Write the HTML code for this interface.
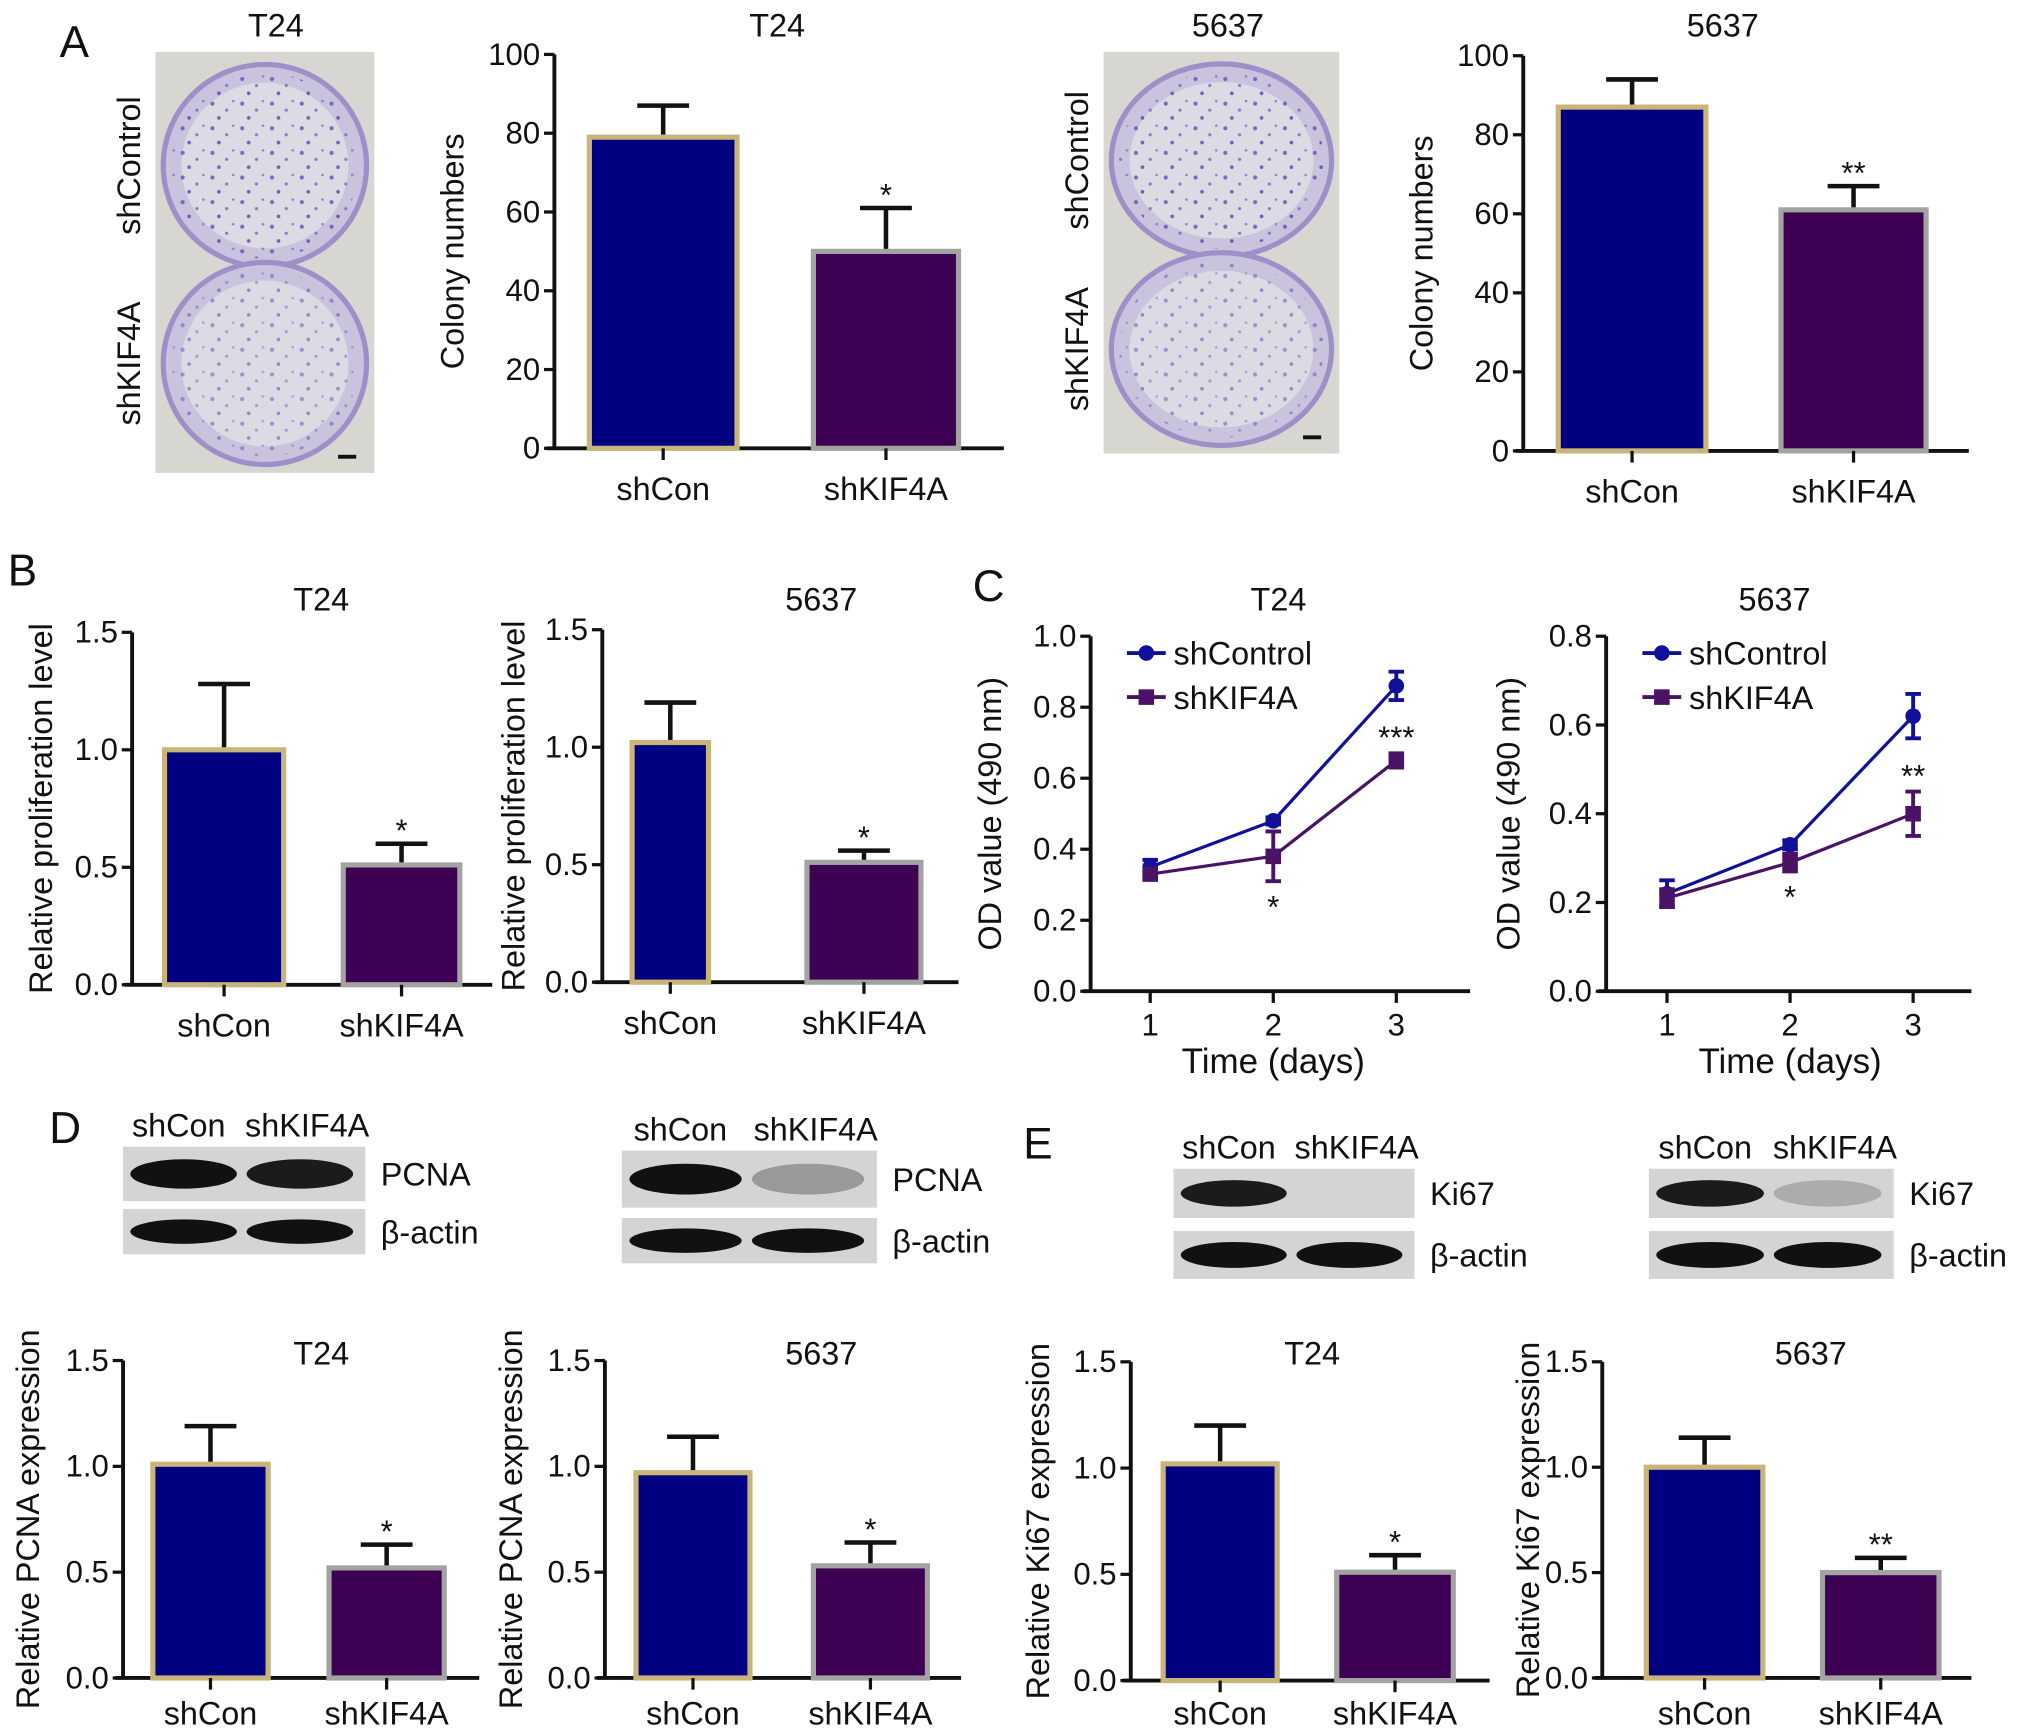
<!DOCTYPE html>
<html><head><meta charset="utf-8">
<style>
html,body{margin:0;padding:0;background:#fff;}
svg{display:block;}
text{font-family:"Liberation Sans Narrow","Liberation Sans",sans-serif;fill:#111;}
.t{font-family:"Liberation Sans",sans-serif;}
</style></head>
<body>
<svg id="fig" width="2031" height="1735" viewBox="0 0 1568 1339" preserveAspectRatio="none" xmlns="http://www.w3.org/2000/svg">
<defs>
<pattern id="speck" width="23" height="19" patternUnits="userSpaceOnUse">
<circle cx="3" cy="4" r="1.6" fill="#6a55b5"/><circle cx="14" cy="9" r="1.2" fill="#7a66c0"/><circle cx="8" cy="15" r="1.4" fill="#5f4aa8"/><circle cx="19" cy="2" r="1" fill="#8572c8"/>
</pattern>
</defs>
<g id="static">
  <text x="46" y="44" font-size="34">A</text>
  <text x="6" y="452" font-size="34">B</text>
  <text x="751" y="464" font-size="34">C</text>
  <text x="38" y="882" font-size="34">D</text>
  <text x="790" y="894" font-size="34">E</text>
</g>
</svg>
<script>
// ---------------- Data ----------------
const barCategories = ["shCon", "shKIF4A"];
const colonyT24 = [79, 50];
const colonyT24Err = [87, 61];
const colony5637 = [87, 61];
const colony5637Err = [94, 67];
const prolifT24 = [1.0, 0.51];
const prolifT24Err = [1.28, 0.6];
const prolif5637 = [1.02, 0.51];
const prolif5637Err = [1.19, 0.56];
const pcnaT24 = [1.01, 0.52];
const pcnaT24Err = [1.19, 0.63];
const pcna5637 = [0.97, 0.53];
const pcna5637Err = [1.14, 0.64];
const ki67T24 = [1.02, 0.51];
const ki67T24Err = [1.2, 0.59];
const ki675637 = [1.0, 0.5];
const ki675637Err = [1.14, 0.57];
const colonyTicks = [0, 20, 40, 60, 80, 100];
const relTicks = ["0.0", "0.5", "1.0", "1.5"];
const days = [1, 2, 3];
const odT24Ctrl = [0.35, 0.48, 0.86];
const odT24CtrlErr = [0.02, 0.01, 0.04];
const odT24Kd = [0.33, 0.38, 0.65];
const odT24KdErr = [0.01, 0.07, 0.02];
const od5637Ctrl = [0.22, 0.33, 0.62];
const od5637CtrlErr = [0.03, 0.01, 0.05];
const od5637Kd = [0.21, 0.29, 0.40];
const od5637KdErr = [0.02, 0.02, 0.05];
const odT24Ticks = ["0.0", "0.2", "0.4", "0.6", "0.8", "1.0"];
const od5637Ticks = ["0.0", "0.2", "0.4", "0.6", "0.8"];

const NS = "http://www.w3.org/2000/svg";
const svg = document.getElementById("fig");
function mk(tag, attrs, parent, txt) {
  const e = document.createElementNS(NS, tag);
  for (const k in attrs) e.setAttribute(k, attrs[k]);
  if (txt !== undefined) e.textContent = txt;
  (parent || svg).appendChild(e);
  return e;
}
const FILL = ["#000080", "#3e0052"];
const EDGE = ["#c9b47a", "#a3a3a3"];

function barChart(o, vals, errs, ticks, stars) {
  const g = mk("g", {});
  
  
  const ymax = parseFloat(ticks[ticks.length - 1]);
  const y = v => o.y0 - (v / ymax) * (o.y0 - o.ytop);
  const lo = o.lo || 40;
  const ax = mk("path", {d: `M${o.ax} ${o.ytop}V${o.y0}M${o.ax - 6} ${o.y0}H${o.xend}`, stroke: "#111", "stroke-width": 3, fill: "none"}, g);
  
  
  ticks.forEach(t => {
    const yy = y(parseFloat(t));
    mk("line", {x1: o.ax - 8, x2: o.ax, y1: yy, y2: yy, stroke: "#111", "stroke-width": 2.5}, g);
    const tl = mk("text", {x: o.ax - 11, y: yy + 8, "font-size": 24, "text-anchor": "end"}, g, t);
    
    
  });
  vals.forEach((v, i) => {
    const [x1, x2] = o.bars[i];
    const cx = (x1 + x2) / 2;
    const ye = y(errs[i]);
    const eb = mk("path", {d: `M${cx} ${y(v)}V${ye}M${cx - 20} ${ye}H${cx + 20}`, stroke: "#111", "stroke-width": 3.5, fill: "none"}, g);
    
    
    const r = mk("rect", {x: x1, y: y(v), width: x2 - x1, height: o.y0 - y(v), fill: FILL[i], stroke: EDGE[i], "stroke-width": 4}, g);
    
    
    mk("line", {x1: cx, x2: cx, y1: o.y0, y2: o.y0 + 9, stroke: "#111", "stroke-width": 2.5}, g);
    const cl = mk("text", {x: cx, y: o.y0 + lo, "font-size": 25, "text-anchor": "middle", class: "t"}, g, barCategories[i]);
    
    
    if (stars[i]) {
      const st = mk("text", {x: cx, y: ye - 2, "font-size": 24, "text-anchor": "middle", class: "t"}, g, stars[i]);
      
      
    }
  });
  const ti = mk("text", {x: o.tx, y: o.ty, "font-size": 25, "text-anchor": "middle"}, g, o.title);
  
  
  const ycx = o.ylx, ycy = (o.ytop + o.y0) / 2;
  const yt = mk("text", {x: ycx, y: ycy, "font-size": 25, "text-anchor": "middle", class: "t", transform: `rotate(-90 ${ycx} ${ycy})`}, g, o.ylabel);
  
  
}

barChart({name: "colony-chart-t24", ax: 428, y0: 346, ytop: 42, xend: 775, bars: [[455, 569], [628, 740]], tx: 600, ty: 28, title: "T24", ylx: 358, ylabel: "Colony numbers"}, colonyT24, colonyT24Err, colonyTicks.map(String), ["", "*"]);
barChart({name: "colony-chart-5637", ax: 1176, y0: 348, ytop: 43, xend: 1520, bars: [[1203, 1317], [1375, 1487]], tx: 1330, ty: 28, title: "5637", ylx: 1106, ylabel: "Colony numbers"}, colony5637, colony5637Err, colonyTicks.map(String), ["", "**"]);
barChart({name: "proliferation-chart-t24", ax: 102, y0: 760, ytop: 488, xend: 380, bars: [[127, 219], [265, 355]], tx: 248, ty: 471, title: "T24", ylx: 40, ylabel: "Relative proliferation level"}, prolifT24, prolifT24Err, relTicks, ["", "*"]);
barChart({name: "proliferation-chart-5637", ax: 465, y0: 758, ytop: 486, xend: 740, bars: [[488, 547], [623, 711]], tx: 634, ty: 471, title: "5637", ylx: 405, ylabel: "Relative proliferation level"}, prolif5637, prolif5637Err, relTicks, ["", "*"]);
barChart({name: "pcna-chart-t24", lo: 36, ax: 95, y0: 1295, ytop: 1050, xend: 370, bars: [[118, 207], [254, 343]], tx: 248, ty: 1053, title: "T24", ylx: 30, ylabel: "Relative PCNA expression"}, pcnaT24, pcnaT24Err, relTicks, ["", "*"]);
barChart({name: "pcna-chart-5637", lo: 36, ax: 467, y0: 1295, ytop: 1050, xend: 742, bars: [[491, 579], [628, 716]], tx: 634, ty: 1053, title: "5637", ylx: 403, ylabel: "Relative PCNA expression"}, pcna5637, pcna5637Err, relTicks, ["", "*"]);
barChart({name: "ki67-chart-t24", lo: 34, ax: 873, y0: 1297, ytop: 1051, xend: 1150, bars: [[898, 986], [1032, 1122]], tx: 1013, ty: 1053, title: "T24", ylx: 810, ylabel: "Relative Ki67 expression"}, ki67T24, ki67T24Err, relTicks, ["", "*"]);
barChart({name: "ki67-chart-5637", lo: 36, ax: 1237, y0: 1295, ytop: 1051, xend: 1522, bars: [[1271, 1361], [1407, 1497]], tx: 1398, ty: 1053, title: "5637", ylx: 1188, ylabel: "Relative Ki67 expression"}, ki675637, ki675637Err, relTicks, ["", "**"]);

function lineChart(o, ticks, ctrl, ctrlE, kd, kdE, stars) {
  const g = mk("g", {});
  
  
  const ymax = parseFloat(ticks[ticks.length - 1]);
  const y = v => o.y0 - (v / ymax) * (o.y0 - o.ytop);
  const x = d => o.x1 + (d - 1) * o.dx;
  const ax = mk("path", {d: `M${o.ax} ${o.ytop}V${o.y0}M${o.ax - 6} ${o.y0}H${o.xend}`, stroke: "#111", "stroke-width": 3, fill: "none"}, g);
  
  
  ticks.forEach(t => {
    const yy = y(parseFloat(t));
    mk("line", {x1: o.ax - 8, x2: o.ax, y1: yy, y2: yy, stroke: "#111", "stroke-width": 2.5}, g);
    const tl = mk("text", {x: o.ax - 11, y: yy + 8, "font-size": 24, "text-anchor": "end"}, g, t);
    
    
  });
  days.forEach(d => {
    mk("line", {x1: x(d), x2: x(d), y1: o.y0, y2: o.y0 + 9, stroke: "#111", "stroke-width": 2.5}, g);
    const tl = mk("text", {x: x(d), y: o.y0 + 34, "font-size": 24, "text-anchor": "middle"}, g, String(d));
    
    
  });
  const series = [[ctrl, ctrlE, "#10109a", "circle", "shControl"], [kd, kdE, "#4a1366", "square", "shKIF4A"]];
  series.forEach(([vals, errs, col, shape, label], si) => {
    const pl = mk("polyline", {points: vals.map((v, i) => x(days[i]) + "," + y(v)).join(" "), fill: "none", stroke: col, "stroke-width": 2.5}, g);
    
    
    vals.forEach((v, i) => {
      const cx = x(days[i]), cy = y(v);
      const eb = mk("path", {d: `M${cx} ${y(v + errs[i])}V${y(v - errs[i])}M${cx - 6} ${y(v + errs[i])}H${cx + 6}M${cx - 6} ${y(v - errs[i])}H${cx + 6}`, stroke: col, "stroke-width": 3, fill: "none"}, g);
      
      
      const m = shape === "circle" ? mk("circle", {cx: cx, cy: cy, r: 6, fill: col}, g) : mk("rect", {x: cx - 6, y: cy - 6, width: 12, height: 12, fill: col}, g);
      
      
    });
    const ly = o.ly + si * 34;
    mk("line", {x1: o.lx, x2: o.lx + 30, y1: ly, y2: ly, stroke: col, "stroke-width": 3}, g);
    const lm = shape === "circle" ? mk("circle", {cx: o.lx + 15, cy: ly, r: 6, fill: col}, g) : mk("rect", {x: o.lx + 9, y: ly - 6, width: 12, height: 12, fill: col}, g);
    
    
    const lt = mk("text", {x: o.lx + 36, y: ly + 9, "font-size": 25, class: "t"}, g, label);
    
    
  });
  const s2 = mk("text", {x: x(2), y: y(kd[1] - kdE[1]) + 28, "font-size": 24, "text-anchor": "middle", class: "t"}, g, stars[0]);
  
  
  const s3 = mk("text", {x: x(3), y: y(kd[2] + kdE[2]) - 4, "font-size": 24, "text-anchor": "middle", class: "t"}, g, stars[1]);
  
  
  const ti = mk("text", {x: o.tx, y: 471, "font-size": 25, "text-anchor": "middle"}, g, o.title);
  
  
  const xt = mk("text", {x: x(2), y: 828, "font-size": 27, "text-anchor": "middle", class: "t"}, g, "Time (days)");
  
  
  const ycy = (o.ytop + o.y0) / 2;
  const yt = mk("text", {x: o.ylx, y: ycy, "font-size": 25, "text-anchor": "middle", class: "t", transform: `rotate(-90 ${o.ylx} ${ycy})`}, g, "OD value (490 nm)");
  
  
}
lineChart({name: "od-chart-t24", ax: 842, y0: 765, ytop: 491, xend: 1135, x1: 888, dx: 95, lx: 870, ly: 504, tx: 987, title: "T24", ylx: 773}, odT24Ticks, odT24Ctrl, odT24CtrlErr, odT24Kd, odT24KdErr, ["*", "***"]);
lineChart({name: "od-chart-5637", ax: 1240, y0: 765, ytop: 491, xend: 1522, x1: 1287, dx: 95, lx: 1268, ly: 504, tx: 1370, title: "5637", ylx: 1173}, od5637Ticks, od5637Ctrl, od5637CtrlErr, od5637Kd, od5637KdErr, ["*", "**"]);

function dish(x, y, w, h, name) {
  const g = mk("g", {});
  
  
  mk("rect", {x: x, y: y, width: w, height: h, fill: "#d8d6d0"}, g);
  const cx = x + w / 2, r = w / 2 - 6;
  [y + h * 0.27, y + h * 0.74].forEach((cy, k) => {
    mk("ellipse", {cx: cx, cy: cy, rx: r, ry: h * 0.24, fill: "#c9c3dd", stroke: "#9d90c8", "stroke-width": 4}, g);
    mk("ellipse", {cx: cx, cy: cy, rx: r - 14, ry: h * 0.24 - 14, fill: "#dcdae2"}, g);
    mk("ellipse", {cx: cx, cy: cy, rx: r - 6, ry: h * 0.24 - 6, fill: "url(#speck)", opacity: k ? 0.55 : 0.85}, g);
  });
  const lab = [["shControl", y + h * 0.27], ["shKIF4A", y + h * 0.74]];
  lab.forEach(([t, cy]) => {
    const tx = x - 12;
    const e = mk("text", {x: tx, y: cy, "font-size": 25, "text-anchor": "middle", class: "t", transform: `rotate(-90 ${tx} ${cy})`}, svg, t);
    
    
  });
  mk("rect", {x: x + w - 28, y: y + h - 14, width: 14, height: 3, fill: "#111"}, g);
}
dish(120, 40, 169, 325, "colony-photo-t24");
dish(852, 40, 182, 310, "colony-photo-5637");
const pt1 = mk("text", {x: 213, y: 28, "font-size": 25, "text-anchor": "middle"}, svg, "T24");


const pt2 = mk("text", {x: 948, y: 28, "font-size": 25, "text-anchor": "middle"}, svg, "5637");



function blot(o) {
  const g = mk("g", {});
  
  
  const w = o.x2 - o.x1;
  [[o.r1, o.top], [o.r2, "β-actin"]].forEach(([r, lbl], k) => {
    mk("rect", {x: o.x1, y: r[0], width: w, height: r[1] - r[0], fill: "#d4d4d4"}, g);
    const cy = (r[0] + r[1]) / 2;
    const op = k ? [1, 1] : o.int;
    [0.25, 0.73].forEach((f, j) => {
      if (op[j] > 0) mk("ellipse", {cx: o.x1 + w * f, cy: cy, rx: w * 0.22, ry: (r[1] - r[0]) * 0.27, fill: "#111", opacity: op[j]}, g);
    });
    const lt = mk("text", {x: o.x2 + 12, y: cy + 9, "font-size": 25}, g, lbl);
    
    
  });
  ["shCon", "shKIF4A"].forEach((t, j) => {
    const e = mk("text", {x: o.x1 + w * [0.23, 0.76][j], y: o.r1[0] - 8, "font-size": 25, "text-anchor": "middle"}, g, t);
    
    
  });
}
blot({name: "pcna-blot-t24", x1: 95, x2: 282, r1: [885, 927], r2: [933, 968], top: "PCNA", int: [1, 0.95]});
blot({name: "pcna-blot-5637", x1: 480, x2: 677, r1: [888, 932], r2: [940, 975], top: "PCNA", int: [1, 0.3]});
blot({name: "ki67-blot-t24", x1: 906, x2: 1092, r1: [902, 940], r2: [950, 987], top: "Ki67", int: [0.95, 0]});
blot({name: "ki67-blot-5637", x1: 1273, x2: 1462, r1: [902, 940], r2: [950, 987], top: "Ki67", int: [0.95, 0.2]});
</script>
</body></html>
